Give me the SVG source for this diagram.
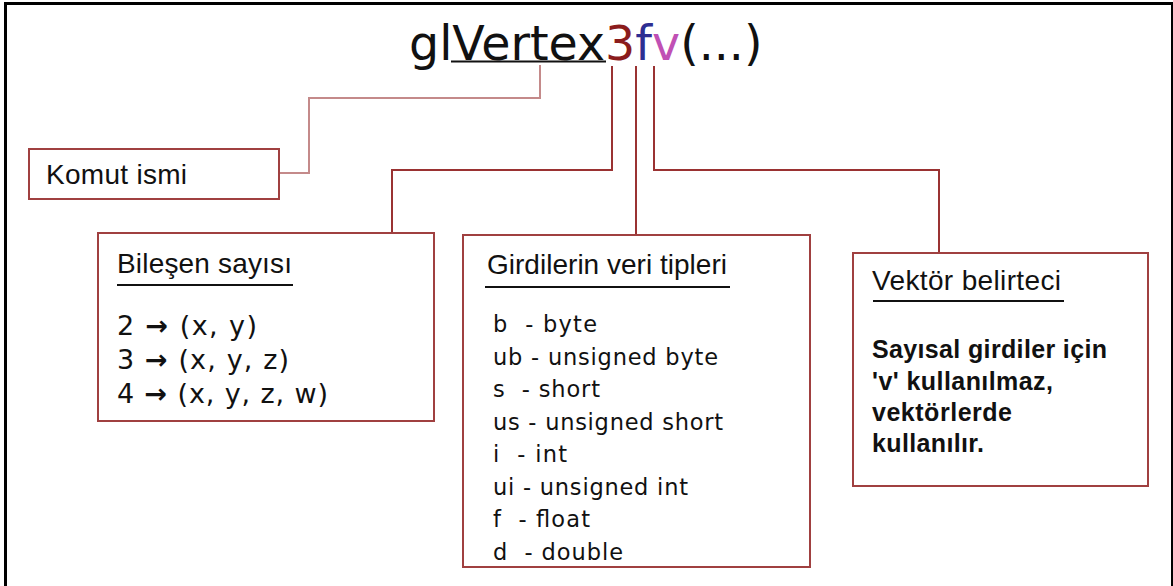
<svg xmlns="http://www.w3.org/2000/svg" width="1173" height="586" viewBox="0 0 1173 586">
<style>
.box{fill:#fff;stroke:#a04040;stroke-width:2}
.con{fill:none;stroke:#9a3232;stroke-width:2}
.con2{fill:none;stroke:#c48a8a;stroke-width:2}
.ul{stroke:#111;stroke-width:2}
.hd{font-family:"Liberation Sans",Arial,sans-serif;font-size:28px;fill:#111}
.ln{font-family:"DejaVu Sans",Verdana,sans-serif;font-size:27px;fill:#111}
.li{font-family:"DejaVu Sans",Verdana,sans-serif;font-size:22.5px;fill:#111;white-space:pre}
.bd{font-family:"Liberation Sans",Arial,sans-serif;font-size:25px;font-weight:bold;fill:#111}
.tt{font-family:"DejaVu Sans",Verdana,sans-serif;font-size:47.5px;fill:#111}
</style>
<rect x="0" y="0" width="1173" height="586" fill="#fff"/>
<rect x="5.5" y="3.5" width="1167" height="600" fill="none" stroke="#000" stroke-width="3"/>
<g id="title">
<text class="tt" x="409" y="60">gl<tspan>Vertex</tspan><tspan fill="#8b1c1c">3</tspan><tspan fill="#2e2e92">f</tspan><tspan fill="#c050b4">v</tspan>(...)</text>
<line class="ul" x1="451" y1="61.5" x2="606" y2="61.5"/>
</g>
<g id="connectors">
<path class="con2" d="M540,65 V98 H309 V173 H279"/>
<path class="con" d="M612,66 V170 H392 V233"/>
<path class="con" d="M636,66 V235"/>
<path class="con" d="M654,66 V170 H939 V253"/>
</g>
<g id="komut">
<rect class="box" x="29" y="149" width="250" height="50"/>
<text class="hd" x="46" y="184" textLength="141">Komut ismi</text>
</g>
<g id="bilesen">
<rect class="box" x="98" y="233" width="336" height="188"/>
<text class="hd" x="117" y="273" textLength="175">Bileşen sayısı</text>
<line class="ul" x1="117" y1="285" x2="293" y2="285"/>
<text class="ln" x="117" y="335" textLength="140">2 <tspan font-weight="bold">→</tspan> (x, y)</text>
<text class="ln" x="117" y="369" textLength="172">3 <tspan font-weight="bold">→</tspan> (x, y, z)</text>
<text class="ln" x="117" y="403" textLength="211">4 <tspan font-weight="bold">→</tspan> (x, y, z, w)</text>
</g>
<g id="girdiler">
<rect class="box" x="463" y="235" width="347" height="332"/>
<text class="hd" x="487" y="274" textLength="240">Girdilerin veri tipleri</text>
<line class="ul" x1="485" y1="287" x2="730" y2="287"/>
<text class="li" x="493" y="332" textLength="104">b  - byte</text>
<text class="li" x="493" y="365" textLength="225">ub - unsigned byte</text>
<text class="li" x="493" y="397" textLength="107">s  - short</text>
<text class="li" x="493" y="430" textLength="230">us - unsigned short</text>
<text class="li" x="493" y="462" textLength="74">i  - int</text>
<text class="li" x="493" y="495" textLength="195">ui - unsigned int</text>
<text class="li" x="493" y="527" textLength="97">f  - float</text>
<text class="li" x="493" y="560" textLength="130">d  - double</text>
</g>
<g id="vektor">
<rect class="box" x="853" y="253" width="295" height="233"/>
<text class="hd" x="872" y="290" textLength="189">Vektör belirteci</text>
<line class="ul" x1="873" y1="301" x2="1064" y2="301"/>
<text class="bd" x="872" y="358" textLength="235">Sayısal girdiler için</text>
<text class="bd" x="872" y="390" textLength="181">'v' kullanılmaz,</text>
<text class="bd" x="872" y="421" textLength="140">vektörlerde</text>
<text class="bd" x="872" y="452" textLength="112">kullanılır.</text>
</g>
</svg>
